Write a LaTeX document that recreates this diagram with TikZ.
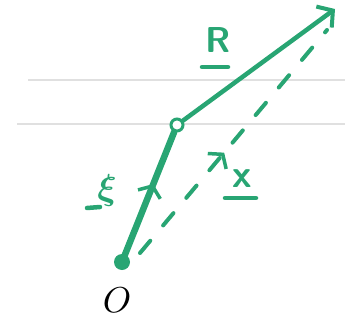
\documentclass[tikz,border=0pt]{standalone}
\usepackage{graphicx}
\usepackage{amsmath,bm}
\usetikzlibrary{arrows.meta,decorations.markings}
\definecolor{pen}{RGB}{40,165,115}
\tikzset{
  vec/.style={pen,line width=4.5pt,line cap=round},
  midarrow/.style={postaction={decorate},decoration={markings,
      mark=at position #1 with {\arrow[pen,solid,line width=3.5pt]{Straight Barb[length=9pt,width=24pt]}}}},
  lbl/.style={pen,font=\sffamily\bfseries},
  uline/.style={pen,line width=4.5pt,line cap=round}
}
\begin{document}
\begin{tikzpicture}[x=1pt,y=-1pt]
  \useasboundingbox (0,0) rectangle (345,324);
  % ruled paper
  \draw[black!12,line width=1.5pt] (28,80) -- (345,80);
  \draw[black!12,line width=1.5pt] (17,124) -- (345,124);

  % points
  \coordinate (O) at (122,262);
  \coordinate (tip) at (335,9);
  \coordinate (dend) at (327,30);
  \node[circle,draw=pen,fill=white,line width=3pt,inner sep=0pt,minimum size=12pt] (P) at (177,125) {};

  % xi
  \draw[vec,line width=6.5pt,midarrow=0.6] (O) -- (P);
  \fill[pen] (O) circle (8pt);
  % R
  \draw[vec,-{Straight Barb[length=11pt,width=26pt,line width=4pt]}] (P) -- (tip);
  % x
  \draw[vec,line width=4pt,dash pattern=on 16pt off 20pt,midarrow=0.45] ([shift={(18,-9)}]O) -- (dend);

  % labels
  \node[lbl] (lR) at (218,40) {\scalebox{3.6}{R}};
  \draw[uline] (202,67) -- (228,67);
  \node[pen] (lxi) at (107,190) {\scalebox{3.6}{$\bm{\xi}$}};
  \draw[uline] (87,208) -- (100,207);
  \node[lbl] (lx) at (242,179) {\scalebox{3.9}{x}};
  \draw[uline] (225,198) -- (256,198);
  \node (lO) at (117,300) {\scalebox{3.6}{$O$}};
\end{tikzpicture}
\end{document}
